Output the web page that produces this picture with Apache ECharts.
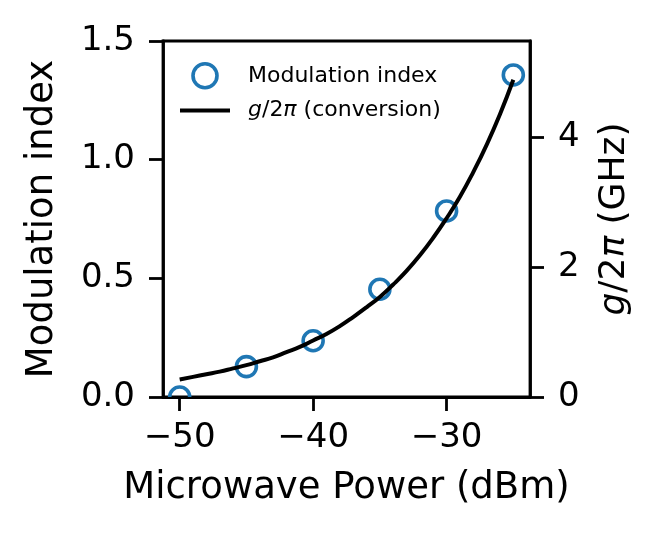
<!DOCTYPE html>
<html>
<head>
<meta charset="utf-8">
<script src="https://cdn.jsdelivr.net/npm/echarts@6/dist/echarts.min.js"></script>
<style>html,body{margin:0;padding:0;background:#fff}#c{width:664px;height:539px}</style>
</head>
<body>
<div id="c"></div>
<script>
// Measured modulation index (left axis)
const powerPoints = [-50, -45, -40, -35, -30, -25];
const modIndex = [0.0, 0.128, 0.237, 0.454, 0.784, 1.357];
// g/2pi conversion curve (right axis, GHz)
const powerCurve = [-50,-49,-48,-47,-46,-45,-44,-43,-42,-41,-40,-39,-38,-37,-36,-35,-34,-33,-32,-31,-30,-29,-28,-27,-26,-25];
const gCurve = [0.27,0.31,0.35,0.39,0.44,0.49,0.55,0.61,0.69,0.77,0.87,0.97,1.09,1.23,1.38,1.54,1.73,1.94,2.18,2.45,2.75,3.08,3.46,3.88,4.35,4.88];
const xTicks = [-50, -40, -30];
const yLeftTicks = [0, 0.5, 1.0, 1.5];
const yRightTicks = [0, 2, 4];

const FONT = 'DejaVu Sans';
const fmtMinus = v => (v < 0 ? '\u2212' + Math.abs(v) : String(v));
const chart = echarts.init(document.getElementById('c'), null, {renderer: 'canvas'});
const axisLine = {show: true, lineStyle: {color: '#000', width: 2.8}};
const axisTick = {show: true, inside: false, length: 14, lineStyle: {color: '#000', width: 2.8}};

chart.setOption({
  animation: false,
  backgroundColor: '#fff',
  grid: {left: 163, right: 134, top: 41, bottom: 142, show: true, borderColor: '#000', borderWidth: 2.8, backgroundColor: 'transparent'},
  legend: {
    orient: 'vertical', left: 175, top: 57, itemWidth: 50, itemHeight: 24, itemGap: 10,
    symbolKeepAspect: true,
    textStyle: {fontFamily: FONT, fontSize: 22, color: '#000', padding: [0, 0, 0, 13],
      rich: {i: {fontFamily: FONT, fontSize: 22, fontStyle: 'italic', color: '#000'}}},
    formatter: name => name === 'g' ? '{i|g}/2{i|π} (conversion)' : name,
    data: [
      {name: 'Modulation index', icon: 'circle', itemStyle: {color: '#fff', borderColor: '#1f77b4', borderWidth: 3.6}},
      {name: 'g', icon: 'path://M0,0h50v4h-50z', itemStyle: {color: '#000', borderWidth: 0}}
    ]
  },
  xAxis: {
    type: 'value', min: -51.25, max: -23.75,
    splitLine: {show: false},
    axisLine: axisLine,
    axisTick: Object.assign({customValues: xTicks}, axisTick),
    axisLabel: {customValues: xTicks, formatter: fmtMinus, fontFamily: FONT, fontSize: 34, color: '#000', margin: 24},
    name: 'Microwave Power (dBm)', nameLocation: 'middle', nameGap: 73,
    nameTextStyle: {fontFamily: FONT, fontSize: 37, color: '#000'}
  },
  yAxis: [
    {
      type: 'value', min: 0, max: 1.5, position: 'left',
      splitLine: {show: false},
      axisLine: axisLine,
      axisTick: Object.assign({customValues: yLeftTicks}, axisTick),
      axisLabel: {customValues: yLeftTicks, formatter: v => v.toFixed(1), fontFamily: FONT, fontSize: 34, color: '#000', margin: 28},
      name: 'Modulation index', nameLocation: 'middle', nameRotate: 90, nameGap: 102,
      nameTextStyle: {fontFamily: FONT, fontSize: 37, color: '#000'}
    },
    {
      type: 'value', min: 0, max: 5.477, position: 'right',
      splitLine: {show: false},
      axisLine: axisLine,
      axisTick: Object.assign({customValues: yRightTicks}, axisTick),
      axisLabel: {customValues: yRightTicks, fontFamily: FONT, fontSize: 34, color: '#000', margin: 28},
      name: '{i|g}/2{i|π} (GHz)', nameLocation: 'middle', nameRotate: 90, nameGap: 67,
      nameTextStyle: {fontFamily: FONT, fontSize: 36, color: '#000',
        rich: {i: {fontFamily: FONT, fontSize: 36, fontStyle: 'italic', color: '#000'}}}
    }
  ],
  series: [
    {
      name: 'Modulation index', type: 'custom', xAxisIndex: 0, yAxisIndex: 0, clip: true, z: 2,
      data: powerPoints.map((p, i) => [p, modIndex[i]]),
      encode: {x: 0, y: 1},
      itemStyle: {color: '#fff', borderColor: '#1f77b4', borderWidth: 3.6},
      renderItem: (params, api) => {
        const c = api.coord([api.value(0), api.value(1)]);
        return {type: 'circle', shape: {cx: c[0], cy: c[1], r: 10},
          style: {fill: 'none', stroke: '#1f77b4', lineWidth: 3.6}};
      }
    },
    {
      name: 'g', type: 'line', xAxisIndex: 0, yAxisIndex: 1, z: 3,
      data: powerCurve.map((p, i) => [p, gCurve[i]]),
      symbol: 'none', showSymbol: false, smooth: true,
      lineStyle: {color: '#000', width: 4},
      itemStyle: {color: '#000'}
    }
  ]
});
</script>
</body>
</html>
